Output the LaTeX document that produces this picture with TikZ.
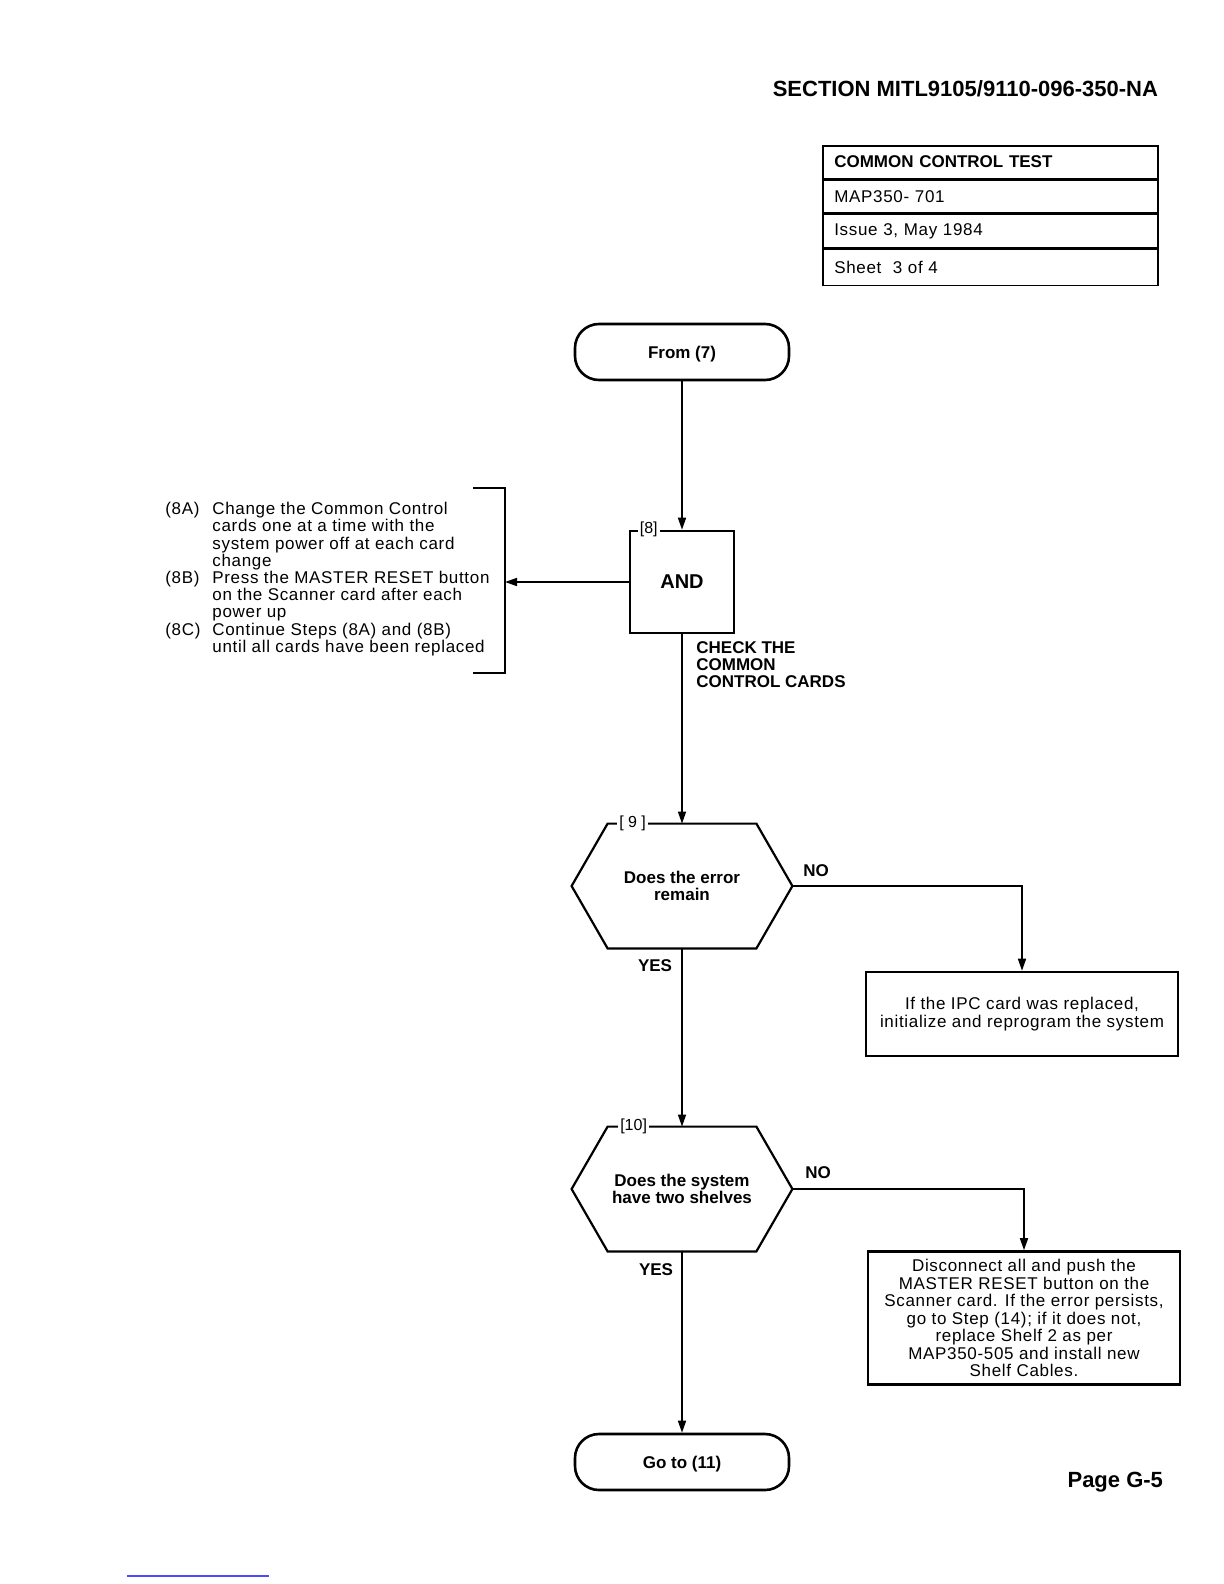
\documentclass[tikz,border=0pt]{standalone}
\usepackage{fontspec}
\setmainfont{Liberation Sans}
\newfontfamily\widefont{Liberation Sans}[LetterSpace=4]
\usetikzlibrary{arrows.meta,positioning}

\newcommand{\steplbl}[1]{\makebox[23.5pt][l]{#1}}
\newcommand{\stepind}{\hspace*{23.5pt}}
\newcommand{\hexframe}[1]{%
  \draw[hexline] (#1.west) -- ([xshift=18pt]#1.north west) -- ([xshift=-18pt]#1.north east)
    -- (#1.east) -- ([xshift=-18pt]#1.south east) -- ([xshift=18pt]#1.south west) -- cycle;}

\tikzset{
  txt/.style={font=\fontsize{8.5}{8.6}\selectfont\widefont, inner sep=0pt},
  boldtxt/.style={font=\fontsize{8.5}{8.6}\selectfont\bfseries, inner sep=0pt},
  frame/.style={draw, line width=1.3pt},
  hexline/.style={line width=1.1pt, line join=miter},
  flow/.style={line width=0.8pt, -{Triangle[length=6pt,width=4pt]}},
  terminal/.style={frame, rounded corners=12pt, minimum width=107pt, minimum height=28pt,
    text depth=0pt, font=\fontsize{8.5}{8.6}\selectfont\bfseries},
  decision/.style={minimum width=110pt, minimum height=62pt, align=center,
    font=\fontsize{8.5}{8.6}\selectfont\bfseries},
  actbox/.style={frame, minimum width=156pt, align=center, inner sep=0pt,
    font=\fontsize{8.5}{8.75}\selectfont\widefont},
  tabrow/.style={draw, line width=0.8pt, minimum width=167.5pt, text width=156pt, align=left,
    inner xsep=5.5pt, font=\fontsize{8.5}{8.6}\selectfont\widefont},
  steptag/.style={fill=white, inner sep=1pt, font=\fontsize{8}{8}\selectfont},
}

\begin{document}
\begin{tikzpicture}[x=0.5pt,y=0.5pt,yscale=-1,xscale=1]
\useasboundingbox (0,0) rectangle (1224,1584);

% header
\node[font=\fontsize{11}{11}\selectfont\bfseries, anchor=east] (section) at (1165,89) {SECTION MITL9105/9110-096-350-NA};

% title table
\node[tabrow, minimum height=16.3pt, anchor=north west, font=\fontsize{8.5}{8.6}\selectfont\bfseries] (row1) at (822,145) {COMMON CONTROL TEST};
\node[tabrow, minimum height=16.3pt, below=0pt of row1] (row2) {MAP350- 701};
\node[tabrow, minimum height=16.8pt, below=0pt of row2] (row3) {Issue 3, May 1984};
\node[tabrow, minimum height=18pt, below=0pt of row3] (row4) {Sheet\ \ 3 of 4};

% flow column
\node[terminal] (from7) at (682,352) {From (7)};
\node[frame, minimum width=52pt, minimum height=51pt, font=\fontsize{10}{10}\selectfont\bfseries] (and8) at (682,582) {AND};
\node[steptag] at ([xshift=10pt]and8.north west) {[8]};

\node[decision] (q9) at (682,886) {Does the error\\remain};
\hexframe{q9}
\node[steptag] at ([xshift=30.5pt]q9.north west) {[ 9 ]};

\node[decision] (q10) at (682,1189) {Does the system\\have two shelves};
\hexframe{q10}
\node[steptag] at ([xshift=31pt]q10.north west) {[10]};

\node[terminal] (goto11) at (682,1462) {Go to (11)};

% action boxes
\node[actbox, minimum height=42pt] (ipc) at (1022,1014) {If the IPC card was replaced,\\initialize and reprogram the system};
\node[actbox, minimum height=66.5pt] (shelf) at (1024,1318) {Disconnect all and push the\\MASTER RESET button on the\\Scanner card. If the error persists,\\go to Step (14); if it does not,\\replace Shelf 2 as per\\MAP350-505 and install new\\Shelf Cables.};

% step list with bracket
\node[txt, anchor=north west, align=left] (steps) at (165,502) {%
\steplbl{(8A)}Change the Common Control\\
\stepind cards one at a time with the\\
\stepind system power off at each card\\
\stepind change\\
\steplbl{(8B)}Press the MASTER RESET button\\
\stepind on the Scanner card after each\\
\stepind power up\\
\steplbl{(8C)}Continue Steps (8A) and (8B)\\
\stepind until all cards have been replaced};
\coordinate (brtop) at (473,488);
\coordinate (brbot) at (473,673);
\draw[line width=0.8pt] (brtop) -- ++(32,0) |- (brbot);
\coordinate (brmid) at (505,582);

% connectors
\draw[flow] (from7) -- (and8);
\draw[flow] (and8.west) -- (brmid);
\draw[flow] (and8) -- (q9);
\draw[flow] (q9.east) -| (ipc.north);
\draw[flow] (q9.south) -- (q10.north);
\draw[flow] (q10.east) -| (shelf.north);
\draw[flow] (q10.south) -- (goto11.north);

% connector labels
\node[boldtxt, anchor=north west, align=left] (check) at (696,641) {CHECK THE\\COMMON\\CONTROL CARDS};
\node[boldtxt] (no9) at (816,871) {NO};
\node[boldtxt] (yes9) at (655,966) {YES};
\node[boldtxt] (no10) at (818,1173) {NO};
\node[boldtxt] (yes10) at (656,1270) {YES};

% footer
\node[font=\fontsize{11}{11}\selectfont\bfseries, anchor=east] (page) at (1170,1482) {Page G-5};
\draw[blue!70, line width=0.6pt] (127,1576) -- (269,1576);

\end{tikzpicture}
\end{document}
